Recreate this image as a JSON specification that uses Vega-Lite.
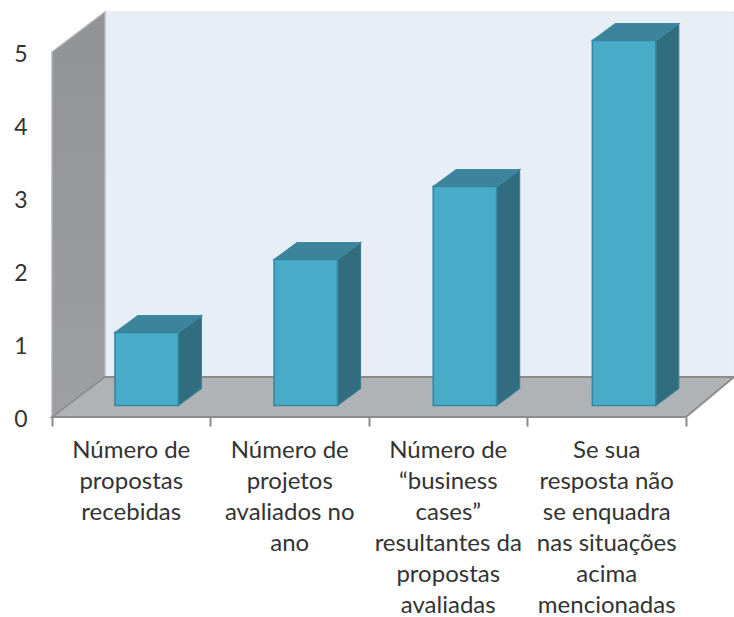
{
"$schema":"https://vega.github.io/schema/vega-lite/v6.json",
"width":682,"height":405,
"autosize":"none",
"padding":{"left":52,"top":12,"right":0,"bottom":200},
"background":"#ffffff",
"view":{"stroke":null},
"datasets":{
"bars":[
{"category":"Número de\npropostas\nrecebidas","value":1},
{"category":"Número de\nprojetos\navaliados no\nano","value":2},
{"category":"Número de\n“business\ncases”\nresultantes da\npropostas\navaliadas","value":3},
{"category":"Se sua\nresposta não\nse enquadra\nnas situações\nacima\nmencionadas","value":5}
],
"room":[
{"part":"back","x":0.334,"y":0.548,"y2":5.548},
{"part":"back","x":4.303,"y":0.548,"y2":5.548},
{"part":"left","x":0,"y":0,"y2":5},
{"part":"left","x":0.334,"y":0.548,"y2":5.548},
{"part":"floor","x":0,"y":0,"y2":0},
{"part":"floor","x":0.334,"y":0,"y2":0.548},
{"part":"floor","x":4,"y":0,"y2":0.548},
{"part":"floor","x":4.303,"y":0.548,"y2":0.548}
]
},
"encoding":{
"x":{"field":"x","type":"quantitative","title":null,"scale":{"domain":[0,4.303],"nice":false,"zero":false},
"axis":{"values":[0,1,2,3,4],"labels":false,"domain":false,"grid":false,"ticks":true,"tickSize":9,"tickWidth":2,"tickColor":"#8c8c8c","title":null}},
"y":{"field":"y","type":"quantitative","title":null,"scale":{"domain":[0,5.548],"nice":false,"zero":false},
"axis":{"values":[0,1,2,3,4,5],"format":"d","domain":false,"grid":false,"ticks":false,"labelPadding":25,"labelOffset":2,"labelFont":"Lato","labelFontSize":23,"labelColor":"#333333","title":null}}
},
"layer":[
{"data":{"name":"room"},"transform":[{"filter":"datum.part==='back'"}],
 "mark":{"type":"area","fill":"#e8eef6","stroke":"#dfe5ec","strokeWidth":1},"encoding":{"y2":{"field":"y2"}}},
{"data":{"name":"room"},"transform":[{"filter":"datum.part==='left'"}],
 "mark":{"type":"area","stroke":"#b4b7ba","strokeWidth":1.5,"fill":{"x1":0,"y1":0,"x2":0,"y2":1,"gradient":"linear","stops":[{"offset":0,"color":"#919397"},{"offset":1,"color":"#9d9fa2"}]}},"encoding":{"y2":{"field":"y2"}}},
{"data":{"name":"room"},"transform":[{"filter":"datum.part==='floor'"}],
 "mark":{"type":"area","fill":"#b0b3b6","stroke":"#8c8c8c","strokeWidth":1.8},"encoding":{"y2":{"field":"y2"}}},
{"data":{"name":"bars"},
 "transform":[
  {"window":[{"op":"row_number","as":"i"}]},
  {"calculate":"(datum.i-1)*1.004","as":"s"},
  {"calculate":"[datum.s+0.7975,datum.s+0.9425]","as":"x"},
  {"calculate":"[datum.value+0.157,datum.value+0.39]","as":"y"},
  {"calculate":"[0.157,0.39]","as":"y2"},
  {"flatten":["x","y","y2"]}],
 "mark":{"type":"area","fill":"#316d7e","stroke":"#3a7f92","strokeWidth":1.2},"encoding":{"y2":{"field":"y2"},"detail":{"field":"category"}}},
{"data":{"name":"bars"},
 "transform":[
  {"window":[{"op":"row_number","as":"i"}]},
  {"calculate":"(datum.i-1)*1.004","as":"s"},
  {"calculate":"[datum.s+0.3975,datum.s+0.5425,datum.s+0.7975,datum.s+0.9425]","as":"x"},
  {"calculate":"[datum.value+0.157,datum.value+0.39,datum.value+0.39,datum.value+0.39]","as":"y"},
  {"calculate":"[datum.value+0.157,datum.value+0.157,datum.value+0.157,datum.value+0.39]","as":"y2"},
  {"flatten":["x","y","y2"]}],
 "mark":{"type":"area","fill":"#3b849c","stroke":"#3d8aa2","strokeWidth":1.2},"encoding":{"y2":{"field":"y2"},"detail":{"field":"category"}}},
{"data":{"name":"bars"},
 "transform":[
  {"window":[{"op":"row_number","as":"i"}]},
  {"calculate":"(datum.i-1)*1.004","as":"s"},
  {"calculate":"datum.s+0.3975","as":"x"},
  {"calculate":"datum.s+0.7975","as":"x2"},
  {"calculate":"datum.value+0.157","as":"y"},
  {"calculate":"0.157","as":"y2"}],
 "mark":{"type":"rect","fill":"#48acc8","stroke":"#35869f","strokeWidth":1.6},"encoding":{"x2":{"field":"x2"},"y2":{"field":"y2"}}},
{"data":{"name":"bars"},
 "transform":[
  {"window":[{"op":"row_number","as":"i"}]},
  {"calculate":"datum.i-0.5","as":"x"},
  {"calculate":"0","as":"y"}],
 "mark":{"type":"text","baseline":"top","align":"center","lineBreak":"\n","lineHeight":31,"font":"Lato","fontSize":24,"color":"#333333","dy":22},
 "encoding":{"text":{"field":"category"}}}
]
}
